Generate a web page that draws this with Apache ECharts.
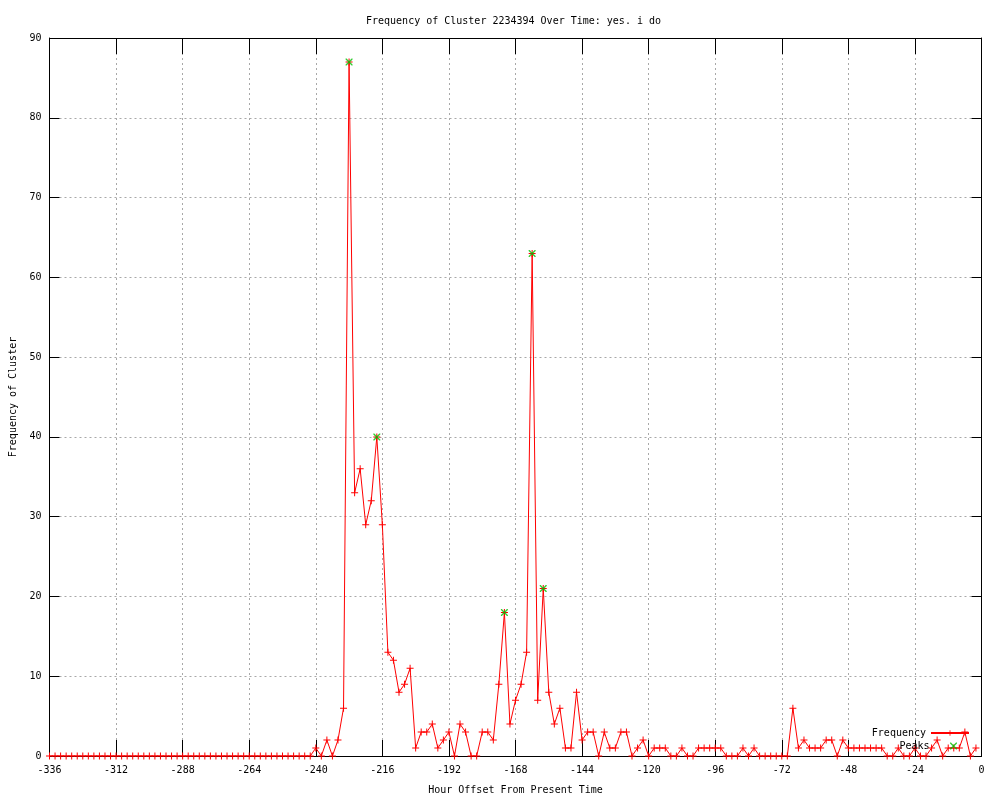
<!DOCTYPE html>
<html>
<head>
<meta charset="utf-8">
<script src="https://cdn.jsdelivr.net/npm/echarts@6/dist/echarts.min.js"></script>
<style>
html,body{margin:0;padding:0;background:#fff;}
#chart{width:1000px;height:800px;}
</style>
</head>
<body>
<div id="chart"></div>
<script>
const hours = [
-336,-334,-332,-330,-328,-326,-324,-322,-320,-318,
-316,-314,-312,-310,-308,-306,-304,-302,-300,-298,
-296,-294,-292,-290,-288,-286,-284,-282,-280,-278,
-276,-274,-272,-270,-268,-266,-264,-262,-260,-258,
-256,-254,-252,-250,-248,-246,-244,-242,
-240,-238,-236,-234,-232,-230,-228,-226,-224,-222,
-220,-218,-216,-214,-212,-210,-208,-206,-204,-202,
-200,-198,-196,-194,-192,-190,-188,-186,-184,-182,
-180,-178,-176,-174,-172,-170,-168,-166,-164,-162,
-160,-158,-156,-154,-152,-150,-148,-146,-144,-142,
-140,-138,-136,-134,-132,-130,-128,-126,-124,-122,
-120,-118,-116,-114,-112,-110,-108,-106,-104,-102,
-100,-98,-96,-94,-92,-90,-88,-86,-84,-82,
-80,-78,-76,-74,-72,-70,-68,-66,-64,-62,
-60,-58,-56,-54,-52,-50,-48,-46,-44,-42,
-40,-38,-36,-34,-32,-30,-28,-26,-24,-22,
-20,-18,-16,-14,-12,-10,-8,-6,-4,-2
];
const frequency = [
0,0,0,0,0,0,0,0,0,0,
0,0,0,0,0,0,0,0,0,0,
0,0,0,0,0,0,0,0,0,0,
0,0,0,0,0,0,0,0,0,0,
0,0,0,0,0,0,0,0,
1,0,2,0,2,6,87,33,36,29,
32,40,29,13,12,8,9,11,1,3,
3,4,1,2,3,0,4,3,0,0,
3,3,2,9,18,4,7,9,13,63,
7,21,8,4,6,1,1,8,2,3,
3,0,3,1,1,3,3,0,1,2,
0,1,1,1,0,0,1,0,0,1,
1,1,1,1,0,0,0,1,0,1,
0,0,0,0,0,0,6,1,2,1,
1,1,2,2,0,2,1,1,1,1,
1,1,1,0,0,1,0,0,1,0,
0,1,2,0,1,1,1,3,0,1
];
const peakHours = [-228, -218, -172, -162, -158];
const peakValues = [87, 40, 18, 63, 21];
const xTicks = {min: -336, max: 0, interval: 24};
const yTicks = {min: 0, max: 90, interval: 10};

const FONT = 'DejaVu Sans Mono';
const plusPath = 'path://M0,3H7V4H0Z M3,0H4V7H3Z';
const xPath = 'path://M0,0L1,0L7,6L7,7L6,7L0,1Z M6,0L7,0L7,1L1,7L0,7L0,6Z';

const chart = echarts.init(document.getElementById('chart'), null, {renderer: 'canvas'});
const gridLine = {show: true, lineStyle: {color: '#a8a8a8', type: [2, 3], width: 1}};
const axisLineBlack = {show: true, onZero: false, lineStyle: {color: '#000', width: 1}};
const labelStyle = {color: '#000', fontFamily: FONT, fontSize: 10};

chart.setOption({
  animation: false,
  backgroundColor: '#fff',
  title: {
    text: 'Frequency of Cluster 2234394 Over Time: yes. i do',
    left: 366, top: 16, padding: 0,
    textStyle: {fontFamily: FONT, fontSize: 10, fontWeight: 'normal', color: '#000'}
  },
  grid: {left: 49.5, right: 18.5, top: 38, bottom: 40, containLabel: false},
  legend: [
    {data: ['Frequency'], orient: 'vertical', align: 'right', right: 30, top: 728,
     itemWidth: 38, itemHeight: 7, textStyle: labelStyle, padding: 0},
    {data: ['Peaks'], orient: 'vertical', align: 'right', right: 43, top: 741,
     itemWidth: 38, itemHeight: 7, textStyle: labelStyle, padding: 0}
  ],
  xAxis: [
    {type: 'value', min: xTicks.min, max: xTicks.max, interval: xTicks.interval,
     position: 'bottom',
     name: 'Hour Offset From Present Time', nameLocation: 'middle', nameGap: 29,
     nameTextStyle: labelStyle,
     axisLine: axisLineBlack,
     axisTick: {show: true, inside: true, length: 16, lineStyle: {color: '#000'}},
     axisLabel: Object.assign({margin: 9}, labelStyle),
     splitLine: gridLine},
    {type: 'value', min: xTicks.min, max: xTicks.max, interval: xTicks.interval,
     position: 'top',
     axisLine: axisLineBlack,
     axisTick: {show: true, inside: true, length: 16, lineStyle: {color: '#000'}},
     axisLabel: {show: false}, splitLine: {show: false}}
  ],
  yAxis: [
    {type: 'value', min: yTicks.min, max: yTicks.max, interval: yTicks.interval,
     position: 'left',
     name: 'Frequency of Cluster', nameLocation: 'middle', nameGap: 31,
     nameTextStyle: labelStyle,
     axisLine: axisLineBlack,
     axisTick: {show: true, inside: true, length: 10, lineStyle: {color: '#000'}},
     axisLabel: Object.assign({margin: 8}, labelStyle),
     splitLine: gridLine},
    {type: 'value', min: yTicks.min, max: yTicks.max, interval: yTicks.interval,
     position: 'right',
     axisLine: axisLineBlack,
     axisTick: {show: true, inside: true, length: 10, lineStyle: {color: '#000'}},
     axisLabel: {show: false}, splitLine: {show: false}}
  ],
  series: [
    {name: 'Frequency', type: 'line',
     data: hours.map((h, i) => [h, frequency[i]]),
     symbol: plusPath, symbolSize: 7, showSymbol: true,
     lineStyle: {color: '#ff0000', width: 1},
     itemStyle: {color: '#ff0000'},
     emphasis: {disabled: true}, z: 3},
    {name: 'Peaks', type: 'scatter',
     data: peakHours.map((h, i) => [h, peakValues[i]]),
     symbol: xPath, symbolSize: 7,
     itemStyle: {color: '#00c000'},
     emphasis: {disabled: true}, z: 4}
  ]
});
</script>
</body>
</html>
